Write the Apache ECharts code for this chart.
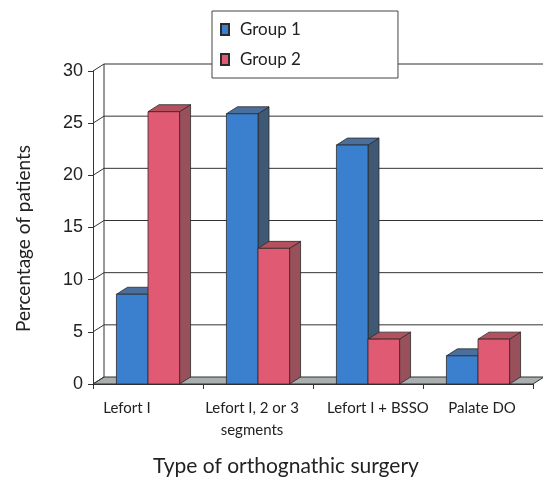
<!DOCTYPE html>
<html>
<head>
<meta charset="utf-8">
<script src="https://cdn.jsdelivr.net/npm/echarts@6/dist/echarts.min.js"></script>
<style>
  html, body { margin: 0; padding: 0; background: #fff; }
  #chart { width: 543px; height: 482px; }
</style>
</head>
<body>
<div id="chart"></div>
<script>
// Surgery types on the x axis
const categories = ['Lefort I', 'Lefort I, 2 or 3\nsegments', 'Lefort I + BSSO', 'Palate DO'];
// Percentage of patients per group
const group1 = [8.6, 25.9, 22.9, 2.7];
const group2 = [26.1, 13.0, 4.3, 4.3];
// Value axis ticks
const yTicks = [0, 5, 10, 15, 20, 25, 30];

// Pseudo-3D depth offset of the back wall and bar tops
const DX = 11, DY = -7;
const BAR_FRAC = 0.287;
const EDGE = '#2b2b2b';

const blue = { front: '#3b80cf', top: '#4a6f9c', side: '#3f5874' };
const red  = { front: '#e05a73', top: '#b5505f', side: '#98505a' };

// Horizontal nudge of each category label (px, + = right)
const labelShift = [-21, -6, 10, 4];
const labelRich = {};
labelShift.forEach((s, i) => {
  labelRich['c' + i] = {
    fontFamily: 'Lato', fontSize: 15, color: '#222', lineHeight: 22,
    padding: s < 0 ? [0, -2 * s, 0, 0] : [0, 0, 0, 2 * s]
  };
});

function barRenderer(side, pal) {
  return function (params, api) {
    const cat = api.value(0), val = api.value(1);
    const base = api.coord([cat, 0]);
    const top = api.coord([cat, val]);
    const bw = api.size([1, 0])[0] * BAR_FRAC;
    const x0 = side < 0 ? base[0] - bw : base[0];
    const x1 = x0 + bw;
    const yb = base[1], yt = top[1];
    const line = { stroke: EDGE, lineWidth: 0.8 };
    return {
      type: 'group',
      children: [
        { type: 'polygon', shape: { points: [[x1, yt], [x1 + DX, yt + DY], [x1 + DX, yb + DY], [x1, yb]] },
          style: Object.assign({ fill: pal.side }, line) },
        { type: 'polygon', shape: { points: [[x0, yt], [x0 + DX, yt + DY], [x1 + DX, yt + DY], [x1, yt]] },
          style: Object.assign({ fill: pal.top }, line) },
        { type: 'rect', shape: { x: x0, y: yt, width: bw, height: yb - yt },
          style: Object.assign({ fill: pal.front }, line) }
      ]
    };
  };
}

// Back wall gridlines, tick connectors and floor
function frameRenderer(params, api) {
  const v = api.value(0);
  const cs = params.coordSys;
  const xl = cs.x, xr = cs.x + cs.width;
  const y = api.coord([0, v])[1];
  const y0 = api.coord([0, 0])[1];
  const yMax = api.coord([0, yTicks[yTicks.length - 1]])[1];
  const children = [];
  const ls = { stroke: '#333', lineWidth: 1 };
  if (v === 0) {
    children.push({ type: 'polygon',
      shape: { points: [[xl, y0], [xr, y0], [xr + DX, y0 + DY], [xl + DX, y0 + DY]] },
      style: { fill: '#a9aeae', stroke: '#333', lineWidth: 1 } });
    children.push({ type: 'line',
      shape: { x1: xl + DX, y1: y0 + DY, x2: xl + DX, y2: yMax + DY }, style: ls });
  } else {
    children.push({ type: 'line',
      shape: { x1: xl + DX, y1: y + DY, x2: xr + DX + 20, y2: y + DY }, style: ls });
  }
  children.push({ type: 'line',
    shape: { x1: xl, y1: y, x2: xl + DX, y2: y + DY }, style: ls });
  return { type: 'group', children: children };
}

const chart = echarts.init(document.getElementById('chart'), null, { renderer: 'canvas' });
chart.setOption({
  animation: false,
  backgroundColor: '#fff',
  grid: { left: 93, right: 10, top: 71, bottom: 90, containLabel: false },
  legend: {
    orient: 'vertical',
    left: 212, top: 11,
    padding: [10, 97, 10, 8],
    itemGap: 13,
    itemWidth: 8, itemHeight: 11,
    icon: 'rect',
    borderColor: '#444', borderWidth: 1,
    backgroundColor: '#fff',
    textStyle: { fontFamily: 'Lato', fontSize: 17, color: '#222', padding: [0, 0, 0, 6] },
    data: ['Group 1', 'Group 2']
  },
  xAxis: {
    type: 'category',
    data: categories,
    boundaryGap: true,
    name: 'Type of orthognathic surgery',
    nameLocation: 'middle',
    nameGap: 72,
    nameTextStyle: { fontFamily: 'Lato', fontSize: 21, color: '#222', padding: [0, 54, 0, 0] },
    axisLine: { show: true, lineStyle: { color: '#333', width: 1 } },
    axisTick: { show: true, length: 5, lineStyle: { color: '#333' } },
    axisLabel: {
      margin: 13, interval: 0,
      formatter: (val, idx) => val.split('\n').map(t => '{c' + idx + '|' + t + '}').join('\n'),
      rich: labelRich
    },
    splitLine: { show: false }
  },
  yAxis: {
    type: 'value',
    min: 0, max: 30, interval: 5,
    name: 'Percentage of patients',
    nameLocation: 'middle',
    nameGap: 60,
    nameTextStyle: { fontFamily: 'Lato', fontSize: 19, color: '#222', padding: [0, 22, 0, 0] },
    axisLine: { show: true, lineStyle: { color: '#333', width: 1 } },
    axisTick: { show: true, length: 5, lineStyle: { color: '#333' } },
    axisLabel: { fontFamily: 'Liberation Sans', fontSize: 18, color: '#222', margin: 10 },
    splitLine: { show: false }
  },
  series: [
    {
      name: 'frame', type: 'custom', clip: false, z: 1, silent: true,
      renderItem: frameRenderer,
      encode: { x: 1, y: 0 },
      data: yTicks.map(v => [v, 0])
    },
    {
      name: 'Group 1', type: 'custom', clip: false, z: 3,
      itemStyle: { color: blue.front, borderColor: EDGE, borderWidth: 1 },
      renderItem: barRenderer(-1, blue),
      encode: { x: 0, y: 1 },
      data: group1.map((v, i) => [i, v])
    },
    {
      name: 'Group 2', type: 'custom', clip: false, z: 3,
      itemStyle: { color: red.front, borderColor: EDGE, borderWidth: 1 },
      renderItem: barRenderer(1, red),
      encode: { x: 0, y: 1 },
      data: group2.map((v, i) => [i, v])
    }
  ]
});
</script>
</body>
</html>
